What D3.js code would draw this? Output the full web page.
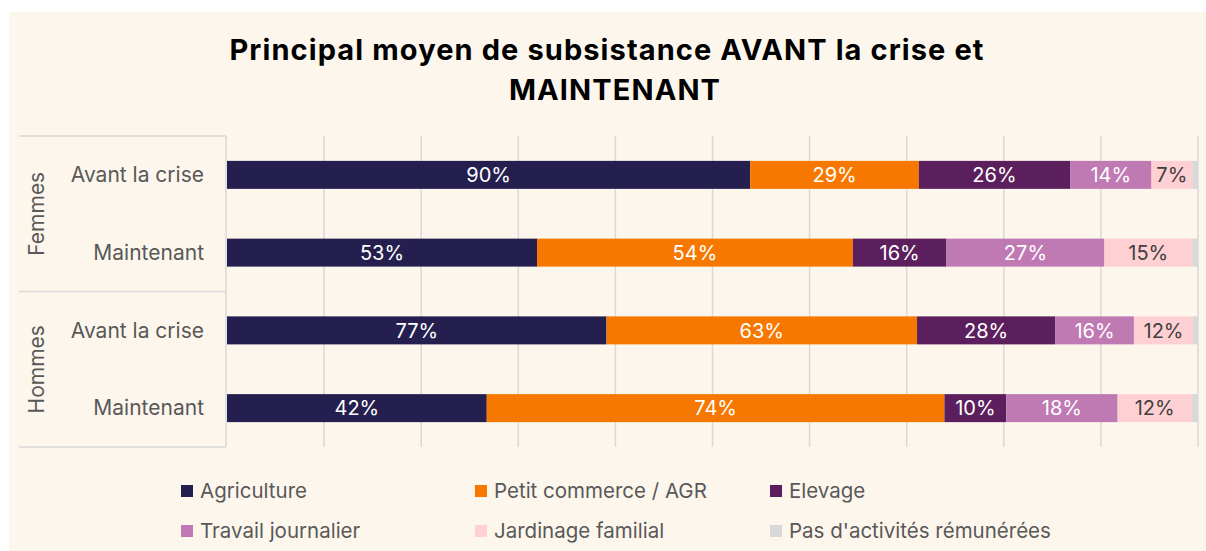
<!DOCTYPE html>
<html>
<head>
<meta charset="utf-8">
<script src="https://cdn.jsdelivr.net/npm/d3@7"></script>
<style>
  body { margin: 0; background: #ffffff; }
  svg { display: block; }
  .cat { font-family: Inter, "Noto Sans", sans-serif; font-size: 21px; fill: #595959; }
  .lbl { font-family: Inter, "Noto Sans", sans-serif; font-size: 20px; }
  .leg { font-family: Inter, "Noto Sans", sans-serif; font-size: 20.5px; fill: #595959; }
  .title { font-family: Inter, sans-serif; font-weight: bold; font-size: 29px; letter-spacing: 1.1px; fill: #000; }
</style>
</head>
<body>
<div id="chart"></div>
<script>
// données
const groups = ["Femmes", "Hommes"];
const periods = ["Avant la crise", "Maintenant"];
const series = ["Agriculture", "Petit commerce / AGR", "Elevage", "Travail journalier", "Jardinage familial", "Pas d'activités rémunérées"];
const agriculture = [90, 53, 77, 42];
const commerce = [29, 54, 63, 74];
const elevage = [26, 16, 28, 10];
const travail = [14, 27, 16, 18];
const jardinage = [7, 15, 12, 12];
const sansActivite = [1, 1, 1, 1];
const xTicks = [0, 0.1, 0.2, 0.3, 0.4, 0.5, 0.6, 0.7, 0.8, 0.9, 1];

const colors = ["#251f4f", "#f77800", "#5c1f5e", "#c07ab3", "#ffd0d3", "#d9d9d9"];
const labelColors = ["#ffffff", "#ffffff", "#ffffff", "#ffffff", "#404040", null];

const allValues = [agriculture, commerce, elevage, travail, jardinage, sansActivite];

// une ligne par (groupe, période)
const rows = [];
groups.forEach((g, gi) => {
  periods.forEach((p, pi) => {
    const i = gi * periods.length + pi;
    const row = { id: g + "|" + p, group: g, period: p };
    series.forEach((s, si) => { row[s] = allValues[si][i]; });
    rows.push(row);
  });
});

const W = 1206, H = 551;
const svg = d3.select("#chart").append("svg")
  .attr("width", W).attr("height", H);

// fond
svg.append("rect").attr("x", 9).attr("y", 12).attr("width", W - 9).attr("height", H - 12)
  .attr("fill", "#fdf6ec");

// titre
svg.append("text").attr("class", "title").attr("x", 607).attr("y", 60)
  .attr("text-anchor", "middle").text("Principal moyen de subsistance AVANT la crise et");
svg.append("text").attr("class", "title").attr("x", 615).attr("y", 100)
  .attr("text-anchor", "middle").text("MAINTENANT");

const plot = { left: 227, right: 1198, top: 136, bottom: 447 };

const x = d3.scaleLinear().domain([0, 1]).range([plot.left, plot.right]);
const y = d3.scaleBand().domain(rows.map(d => d.id))
  .range([plot.top, plot.bottom]).paddingInner(0.64).paddingOuter(0.32);

// grille verticale
svg.append("g").selectAll("line").data(xTicks.slice(1)).join("line")
  .attr("x1", d => x(d)).attr("x2", d => x(d))
  .attr("y1", plot.top).attr("y2", plot.bottom)
  .attr("stroke", "#d9d9d9").attr("stroke-width", 1.5);

// axe des catégories (boîte)
const axisG = svg.append("g").attr("stroke", "#d9d9d9").attr("stroke-width", 1.5);
axisG.append("line").attr("x1", plot.left - 1).attr("x2", plot.left - 1)
  .attr("y1", plot.top).attr("y2", plot.bottom);
const groupEdges = [plot.top, (y(rows[1].id) + y(rows[2].id) + y.bandwidth()) / 2, plot.bottom];
axisG.selectAll(".hl").data(groupEdges).join("line")
  .attr("x1", 19).attr("x2", plot.left - 1)
  .attr("y1", d => d).attr("y2", d => d);

// libellés des périodes
svg.append("g").selectAll("text").data(rows).join("text")
  .attr("class", "cat")
  .attr("x", 204).attr("y", d => y(d.id) + y.bandwidth() / 2)
  .attr("dy", "0.35em").attr("text-anchor", "end")
  .text(d => d.period);

// libellés des groupes (verticaux)
svg.append("g").selectAll("text").data(groups).join("text")
  .attr("class", "cat")
  .attr("transform", (d, i) => `translate(37,${(groupEdges[i] + groupEdges[i + 1]) / 2}) rotate(-90)`)
  .attr("dy", "0.35em").attr("text-anchor", "middle")
  .text(d => d);

// barres empilées 100 %
const stack = d3.stack().keys(series).offset(d3.stackOffsetExpand);
const stacked = stack(rows);

const layers = svg.append("g").selectAll("g").data(stacked).join("g")
  .attr("fill", (d, i) => colors[i]);

layers.selectAll("rect").data(d => d).join("rect")
  .attr("x", d => x(d[0]))
  .attr("width", d => x(d[1]) - x(d[0]))
  .attr("y", d => y(d.data.id))
  .attr("height", y.bandwidth());

// étiquettes de valeurs
stacked.forEach((layer, si) => {
  if (!labelColors[si]) return;
  svg.append("g").selectAll("text").data(layer).join("text")
    .attr("class", "lbl")
    .attr("fill", labelColors[si])
    .attr("x", d => (x(d[0]) + x(d[1])) / 2)
    .attr("y", d => y(d.data.id) + y.bandwidth() / 2)
    .attr("dy", "0.36em").attr("text-anchor", "middle")
    .text(d => d.data[layer.key] + "%");
});

// légende
const legCols = [181, 475, 770];
const legRows = [491, 531];
const leg = svg.append("g").selectAll("g").data(series).join("g")
  .attr("transform", (d, i) => `translate(${legCols[i % 3]},${legRows[Math.floor(i / 3)]})`);
leg.append("rect").attr("x", 0).attr("y", -6).attr("width", 12).attr("height", 12)
  .attr("fill", (d, i) => colors[i]);
leg.append("text").attr("class", "leg").attr("x", 19).attr("dy", "0.35em").text(d => d);
</script>
</body>
</html>
